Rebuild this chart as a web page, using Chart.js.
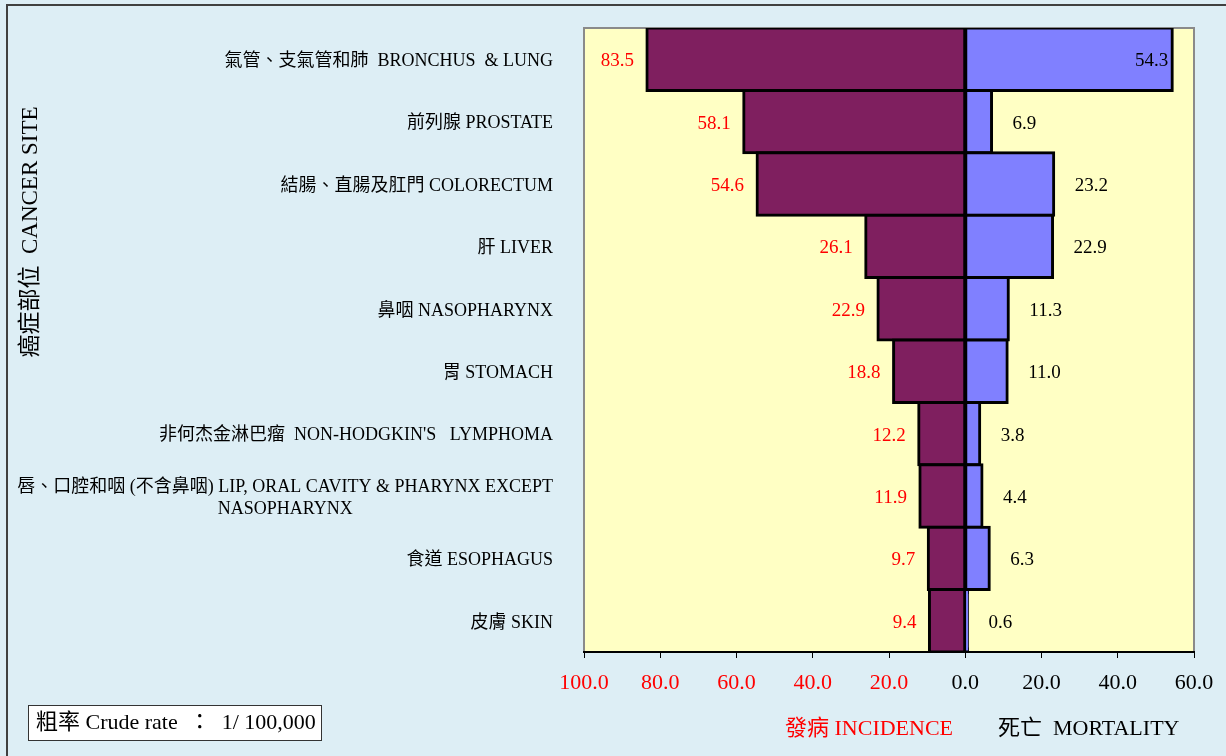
<!DOCTYPE html>
<html>
<head>
<meta charset="utf-8">
<title>癌症發病及死亡粗率</title>
<script src="https://cdn.jsdelivr.net/npm/chart.js@4"></script>
<style>
  html, body { margin: 0; padding: 0; background: #ddeef5; }
  #wrap { width: 1226px; height: 756px; }
</style>
</head>
<body>
<div id="wrap"><canvas id="pyramid" width="1226" height="756"></canvas></div>
<script>
// 各癌症部位（由上至下）
const sites = [
  ["氣管、支氣管和肺  BRONCHUS  & LUNG"],
  ["前列腺 PROSTATE"],
  ["結腸、直腸及肛門 COLORECTUM"],
  ["肝 LIVER"],
  ["鼻咽 NASOPHARYNX"],
  ["胃 STOMACH"],
  ["非何杰金淋巴瘤  NON-HODGKIN'S   LYMPHOMA"],
  ["唇、口腔和咽 (不含鼻咽) LIP, ORAL CAVITY & PHARYNX EXCEPT", "NASOPHARYNX"],
  ["食道 ESOPHAGUS"],
  ["皮膚 SKIN"]
];
// 發病粗率 / 死亡粗率（每十萬人）
const incidence = [83.5, 58.1, 54.6, 26.1, 22.9, 18.8, 12.2, 11.9, 9.7, 9.4];
const mortality = [54.3, 6.9, 23.2, 22.9, 11.3, 11.0, 3.8, 4.4, 6.3, 0.6];
// x 軸刻度
const xMin = -100, xMax = 60, xStep = 20;

const SERIF = '"Liberation Serif", "Noto Sans CJK TC", serif';

// 畫框、繪圖區底色及灰色邊線
const frame = {
  id: 'frame',
  beforeDraw(chart) {
    const { ctx, chartArea: a } = chart;
    ctx.save();
    ctx.fillStyle = '#ddeef5';
    ctx.fillRect(0, 0, chart.width, chart.height);
    ctx.strokeStyle = '#404040';
    ctx.lineWidth = 2;
    ctx.beginPath();
    ctx.moveTo(7, chart.height + 5);
    ctx.lineTo(7, 5);
    ctx.lineTo(chart.width + 5, 5);
    ctx.stroke();
    ctx.fillStyle = '#ffffc4';
    ctx.fillRect(a.left, a.top, a.right - a.left, a.bottom - a.top);
    ctx.strokeStyle = '#8a8a8a';
    ctx.lineWidth = 2;
    ctx.beginPath();
    ctx.moveTo(a.left, a.bottom);
    ctx.lineTo(a.left, a.top);
    ctx.lineTo(a.right, a.top);
    ctx.lineTo(a.right, a.bottom);
    ctx.stroke();
    ctx.restore();
  }
};

// 數值標籤、部位名稱、軸標題及註解
const texts = {
  id: 'texts',
  afterDraw(chart) {
    const { ctx, chartArea: a } = chart;
    const yScale = chart.scales.y;
    ctx.save();
    ctx.textBaseline = 'middle';

    // 數值
    ctx.font = '19px ' + SERIF;
    chart.getDatasetMeta(0).data.forEach((bar, i) => {
      ctx.fillStyle = '#ff0000';
      ctx.textAlign = 'right';
      ctx.fillText(incidence[i].toFixed(1), bar.x - 13, bar.y + 2);
    });
    chart.getDatasetMeta(1).data.forEach((bar, i) => {
      const txt = mortality[i].toFixed(1);
      const w = ctx.measureText(txt).width;
      ctx.fillStyle = '#000000';
      if (bar.x + 21 + w > a.right - 4) {
        ctx.textAlign = 'right';
        ctx.fillText(txt, bar.x - 4, bar.y + 2);
      } else {
        ctx.textAlign = 'left';
        ctx.fillText(txt, bar.x + 21, bar.y + 2);
      }
    });

    // 部位名稱（靠右，多行時各行置中）
    ctx.font = '18px ' + SERIF;
    ctx.fillStyle = '#000000';
    ctx.textAlign = 'center';
    const rightEdge = a.left - 31;
    sites.forEach((lines, i) => {
      const y = yScale.getPixelForValue(i) + 2;
      const widest = Math.max(...lines.map(l => ctx.measureText(l).width));
      const cx = rightEdge - widest / 2;
      const lh = 22;
      lines.forEach((l, k) => {
        ctx.fillText(l, cx, y + (k - (lines.length - 1) / 2) * lh);
      });
    });

    // y 軸標題
    ctx.save();
    ctx.translate(31, 232);
    ctx.rotate(-Math.PI / 2);
    ctx.font = '23px ' + SERIF;
    ctx.fillText('癌症部位  CANCER SITE', 0, 0);
    ctx.restore();

    // x 軸標題
    ctx.font = '22px ' + SERIF;
    ctx.textAlign = 'left';
    ctx.fillStyle = '#ff0000';
    ctx.fillText('發病 INCIDENCE', 785, 729);
    ctx.fillStyle = '#000000';
    ctx.fillText('死亡  MORTALITY', 998, 729);

    // 粗率註解框
    ctx.fillStyle = '#ffffff';
    ctx.fillRect(28, 705, 293, 35);
    ctx.strokeStyle = '#333333';
    ctx.lineWidth = 1;
    ctx.strokeRect(28.5, 705.5, 293, 35);
    ctx.fillStyle = '#000000';
    ctx.font = '22px ' + SERIF;
    ctx.fillText('粗率 Crude rate  ：  1/ 100,000', 36, 723);

    ctx.restore();
  }
};

new Chart(document.getElementById('pyramid'), {
  type: 'bar',
  data: {
    labels: sites,
    datasets: [
      {
        label: '發病 INCIDENCE',
        data: incidence.map(v => -v),
        backgroundColor: '#7f1f5f',
        borderColor: '#000000',
        borderWidth: 3,
        inflateAmount: 1.5,
        borderSkipped: false
      },
      {
        label: '死亡 MORTALITY',
        data: mortality,
        backgroundColor: '#8080ff',
        borderColor: '#000000',
        borderWidth: 3,
        inflateAmount: 1.5,
        borderSkipped: false
      }
    ]
  },
  options: {
    indexAxis: 'y',
    responsive: false,
    animation: false,
    barPercentage: 1,
    categoryPercentage: 1,
    layout: { padding: { left: 584, right: 32, top: 28, bottom: 0 } },
    plugins: {
      legend: { display: false },
      tooltip: { enabled: false }
    },
    scales: {
      y: { display: false, stacked: true },
      x: {
        stacked: true,
        min: xMin,
        max: xMax,
        afterFit: s => { s.height = 104; },
        border: { display: true, color: '#000000', width: 2 },
        grid: {
          drawOnChartArea: false,
          drawTicks: true,
          tickLength: 6,
          tickColor: '#000000',
          tickWidth: 1
        },
        ticks: {
          stepSize: xStep,
          padding: 12,
          maxRotation: 0,
          font: { family: SERIF, size: 22 },
          color: c => (c.tick && c.tick.value < 0 ? '#ff0000' : '#000000'),
          callback: v => Math.abs(v).toFixed(1)
        }
      }
    }
  },
  plugins: [frame, texts]
});
</script>
</body>
</html>
